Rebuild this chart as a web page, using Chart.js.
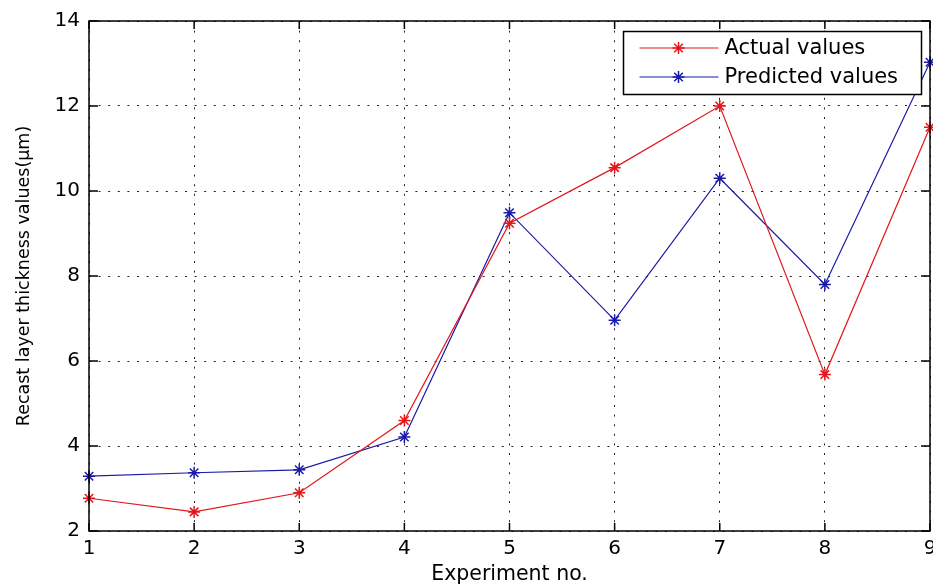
<!DOCTYPE html>
<html>
<head>
<meta charset="utf-8">
<script src="https://cdn.jsdelivr.net/npm/chart.js@4.4.1/dist/chart.umd.min.js"></script>
<style>
  html, body { margin: 0; padding: 0; background: #fff; }
  #wrap { width: 933px; height: 585px; position: relative; }
</style>
</head>
<body>
<div id="wrap"><canvas id="mychart"></canvas></div>
<script>
// values
var experiments = ['1', '2', '3', '4', '5', '6', '7', '8', '9'];
var actualValues = [2.77, 2.45, 2.90, 4.60, 9.24, 10.55, 12.00, 5.68, 11.50];
var predictedValues = [3.29, 3.37, 3.44, 4.21, 9.49, 6.96, 10.30, 7.80, 13.03];
var yTicks = [2, 4, 6, 8, 10, 12, 14];

var fontName = "'DejaVu Sans', Arial, sans-serif";

// matlab style '*' marker
function drawStar(ctx, x, y, r, color) {
  ctx.save();
  ctx.strokeStyle = color;
  ctx.lineWidth = 1.5;
  ctx.beginPath();
  ctx.moveTo(x - r, y); ctx.lineTo(x + r, y);
  ctx.moveTo(x, y - r); ctx.lineTo(x, y + r);
  var d = r * 0.72;
  ctx.moveTo(x - d, y - d); ctx.lineTo(x + d, y + d);
  ctx.moveTo(x - d, y + d); ctx.lineTo(x + d, y - d);
  ctx.stroke();
  ctx.restore();
}

// box round the axes, inward ticks and the legend inside the plot
var matlabFrame = {
  id: 'matlabFrame',
  afterDraw: function (chart) {
    var ctx = chart.ctx;
    var area = chart.chartArea;
    var xs = chart.scales.x;
    var ys = chart.scales.y;

    // legend
    var boxW = 298, boxH = 63;
    var bx = Math.round(area.right - 9 - boxW) + 0.5;
    var by = Math.round(area.top + 10) + 0.5;
    ctx.save();
    ctx.fillStyle = '#fff';
    ctx.fillRect(bx, by, boxW, boxH);
    ctx.strokeStyle = '#000';
    ctx.lineWidth = 1.5;
    ctx.strokeRect(bx, by, boxW, boxH);
    ctx.font = '21px ' + fontName;
    ctx.textBaseline = 'middle';
    ctx.fillStyle = '#000';
    chart.data.datasets.forEach(function (ds, i) {
      var ry = by + 16.5 + i * 29;
      ctx.strokeStyle = ds.borderColor;
      ctx.lineWidth = 1.2;
      ctx.beginPath();
      ctx.moveTo(bx + 16, ry);
      ctx.lineTo(bx + 95, ry);
      ctx.stroke();
      drawStar(ctx, bx + 55, ry, 6, ds.borderColor);
      ctx.fillText(ds.label, bx + 101, ry + 1);
    });
    ctx.restore();

    // frame
    ctx.save();
    ctx.strokeStyle = '#000';
    ctx.lineWidth = 1.5;
    ctx.strokeRect(area.left, area.top, area.right - area.left, area.bottom - area.top);
    ctx.beginPath();
    xs.ticks.forEach(function (t, i) {
      var px = xs.getPixelForTick(i);
      ctx.moveTo(px, area.bottom); ctx.lineTo(px, area.bottom - 8);
      ctx.moveTo(px, area.top); ctx.lineTo(px, area.top + 8);
    });
    ys.ticks.forEach(function (t) {
      var py = ys.getPixelForValue(t.value);
      ctx.moveTo(area.left, py); ctx.lineTo(area.left + 9, py);
      ctx.moveTo(area.right, py); ctx.lineTo(area.right - 9, py);
    });
    ctx.stroke();
    ctx.restore();
  }
};

var starStyle = function (color) {
  return {
    borderColor: color,
    backgroundColor: color,
    borderWidth: 1.2,
    pointStyle: 'star',
    pointRadius: 6,
    pointBorderWidth: 1.5,
    pointBorderColor: color,
    pointBackgroundColor: color,
    tension: 0,
    fill: false
  };
};

var ctx = document.getElementById('mychart').getContext('2d');
var chart = new Chart(ctx, {
  type: 'line',
  data: {
    labels: experiments,
    datasets: [
      Object.assign({ label: 'Actual values', data: actualValues }, starStyle('#e3161c')),
      Object.assign({ label: 'Predicted values', data: predictedValues }, starStyle('#1a1aa8'))
    ]
  },
  options: {
    responsive: true,
    maintainAspectRatio: false,
    animation: false,
    layout: {
      autoPadding: false,
      padding: { top: 19, right: 3, left: 0, bottom: 0 }
    },
    plugins: {
      legend: { display: false },
      tooltip: { enabled: false }
    },
    scales: {
      x: {
        type: 'category',
        offset: false,
        afterFit: function (scale) {
          scale.height = 54;
          // let the "9" run off the canvas edge like the original
          scale.paddingLeft = 0;
          scale.paddingRight = 0;
        },
        grid: {
          color: '#222',
          lineWidth: 1,
          drawTicks: false
        },
        border: { display: false, dash: [2, 7.6] },
        ticks: {
          color: '#000',
          padding: 6,
          maxRotation: 0,
          font: { family: fontName, size: 20 }
        },
        title: {
          display: true,
          text: 'Experiment no.',
          color: '#000',
          padding: { top: 0, bottom: 0 },
          font: { family: fontName, size: 20.5, lineHeight: 1 }
        }
      },
      y: {
        min: 2,
        max: 14,
        afterFit: function (scale) { scale.width = 89; },
        afterBuildTicks: function (scale) {
          scale.ticks = yTicks.map(function (v) { return { value: v }; });
        },
        grid: {
          color: '#222',
          lineWidth: 1,
          drawTicks: false
        },
        border: { display: false, dash: [2, 7.6] },
        ticks: {
          color: '#000',
          padding: 9,
          font: { family: fontName, size: 20 }
        },
        title: {
          display: true,
          text: 'Recast layer thickness values(\u03bcm)',
          color: '#000',
          padding: { top: 16, bottom: 0 },
          font: { family: fontName, size: 17.5, lineHeight: 1 }
        }
      }
    }
  },
  plugins: [matlabFrame]
});
</script>
</body>
</html>
